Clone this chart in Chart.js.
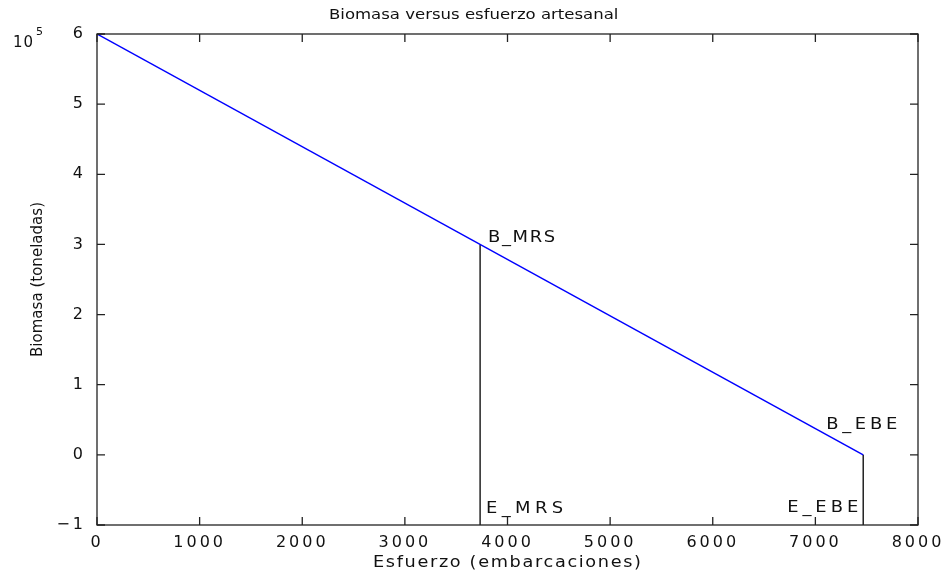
<!DOCTYPE html>
<html>
<head>
<meta charset="utf-8">
<script src="https://cdn.jsdelivr.net/npm/chart.js@4.4.1/dist/chart.umd.min.js"></script>
<style>
  html, body { margin: 0; padding: 0; background: #fff; }
  #wrap { width: 947px; height: 573px; position: relative; }
</style>
</head>
<body>
<div id="wrap"><canvas id="biomasaChart"></canvas></div>
<script>
// Biomass vs artisanal effort: straight decline from 6e5 t at zero effort
var esfuerzo = [0, 7466];
var biomasa = [600000, 0];

// Reference points (MRS and EBE) and the bottom of the axis they drop to
var puntosE = [3733, 7466];
var puntosB = [300000, 0];
var yMin = -100000;

// Axis ranges and tick steps
var xTicks = [0, 1000, 2000, 3000, 4000, 5000, 6000, 7000, 8000];
var yTicks = [-100000, 0, 100000, 200000, 300000, 400000, 500000, 600000];

var titulo = 'Biomasa versus esfuerzo artesanal';
var tituloX = 'Esfuerzo (embarcaciones)';
var tituloY = 'Biomasa (toneladas)';
var etiquetasB = ['B_MRS', 'B_EBE'];
var etiquetasE = ['E_MRS', 'E_EBE'];

var FONT = '"DejaVu Sans", Arial, sans-serif';

// draws text with glyphs stretched by sx, spread out to a given visible width
function drawText(ctx, txt, x, y, align, baseline, width, size, sx) {
    ctx.save();
    ctx.font = size + 'px ' + FONT;
    ctx.letterSpacing = '0px';
    var w0 = ctx.measureText(txt).width;
    var sp = Math.max(0, (width - w0 * sx) / (txt.length - 1) / sx);
    ctx.letterSpacing = sp + 'px';
    var full = width;
    var left = align === 'left' ? x : align === 'right' ? x - full : x - full / 2;
    ctx.translate(left, y);
    ctx.scale(sx, 1);
    ctx.textAlign = 'left';
    ctx.textBaseline = baseline;
    ctx.fillText(txt, 0, 0);
    ctx.restore();
}

var matlabFrame = {
    id: 'matlabFrame',
    beforeDraw: function(chart) {
        // wide spacing for the tick labels
        chart.ctx.letterSpacing = '3px';
    },
    afterDatasetsDraw: function(chart) {
        var ctx = chart.ctx;
        var a = chart.chartArea;
        var xs = chart.scales.x, ys = chart.scales.y;
        ctx.save();
        ctx.strokeStyle = '#222';
        ctx.lineWidth = 1.3;
        ctx.strokeRect(a.left, a.top, a.right - a.left, a.bottom - a.top);
        // inward ticks on all four sides
        var tl = 8;
        ctx.beginPath();
        xTicks.forEach(function(v) {
            var px = xs.getPixelForValue(v);
            ctx.moveTo(px, a.bottom); ctx.lineTo(px, a.bottom - tl);
            ctx.moveTo(px, a.top); ctx.lineTo(px, a.top + tl);
        });
        yTicks.forEach(function(v) {
            var py = ys.getPixelForValue(v);
            ctx.moveTo(a.left, py); ctx.lineTo(a.left + tl, py);
            ctx.moveTo(a.right, py); ctx.lineTo(a.right - tl, py);
        });
        ctx.stroke();

        ctx.fillStyle = '#111';
        // point labels
        var x1 = xs.getPixelForValue(puntosE[0]);
        var x2 = xs.getPixelForValue(puntosE[1]);
        var yb = ys.getPixelForValue(yMin);
        drawText(ctx, etiquetasB[0], x1 + 8, ys.getPixelForValue(puntosB[0]) - 7, 'left', 'middle', 67, 16, 1.12);
        drawText(ctx, etiquetasB[1], x2 + 34, ys.getPixelForValue(puntosB[1]) - 30, 'right', 'middle', 71, 16, 1.12);
        drawText(ctx, etiquetasE[0], x1 + 6, yb - 16, 'left', 'middle', 77, 16, 1.12);
        drawText(ctx, etiquetasE[1], x2 - 5, yb - 17, 'right', 'middle', 71, 16, 1.12);

        // titles
        drawText(ctx, titulo, 472, 19, 'center', 'alphabetic', 286, 14, 1.18);
        drawText(ctx, tituloX, 507, 567, 'center', 'alphabetic', 268, 15, 1.18);
        ctx.save();
        ctx.translate(42, (a.top + a.bottom) / 2);
        ctx.rotate(-Math.PI / 2);
        drawText(ctx, tituloY, 0, 0, 'center', 'alphabetic', 155, 15, 1.0);
        ctx.restore();

        // exponent marker
        drawText(ctx, '10', 13, 47, 'left', 'alphabetic', 20, 15, 1.0);
        drawText(ctx, '5', 36, 35, 'left', 'alphabetic', 0, 11, 1.0);
        ctx.restore();
    }
};

var config = {
    type: 'scatter',
    data: {
        datasets: [
            {
                data: esfuerzo.map(function(e, i) { return { x: e, y: biomasa[i] }; }),
                showLine: true,
                borderColor: '#0000ff',
                borderWidth: 1.5,
                pointRadius: 0
            },
            {
                data: [{ x: puntosE[0], y: yMin }, { x: puntosE[0], y: puntosB[0] }],
                showLine: true,
                borderColor: '#000',
                borderWidth: 1.3,
                pointRadius: 0
            },
            {
                data: [{ x: puntosE[1], y: yMin }, { x: puntosE[1], y: puntosB[1] }],
                showLine: true,
                borderColor: '#000',
                borderWidth: 1.3,
                pointRadius: 0
            }
        ]
    },
    options: {
        responsive: true,
        maintainAspectRatio: false,
        animation: false,
        layout: { padding: { top: 34, right: 29, left: 0, bottom: 0 } },
        plugins: {
            legend: { display: false },
            tooltip: { enabled: false },
            title: { display: false }
        },
        scales: {
            x: {
                type: 'linear',
                min: 0,
                max: 8000,
                grid: { display: false, drawTicks: false },
                border: { display: false },
                afterBuildTicks: function(s) { s.ticks = xTicks.map(function(v) { return { value: v }; }); },
                afterFit: function(s) { s.height = 48; },
                ticks: {
                    color: '#111',
                    padding: 8,
                    maxRotation: 0,
                    autoSkip: false,
                    font: { family: FONT, size: 16 },
                    callback: function(v) { return String(v); }
                }
            },
            y: {
                type: 'linear',
                min: yMin,
                max: 600000,
                grid: { display: false, drawTicks: false },
                border: { display: false },
                afterBuildTicks: function(s) { s.ticks = yTicks.map(function(v) { return { value: v }; }); },
                afterFit: function(s) { s.width = 97; },
                ticks: {
                    color: '#111',
                    padding: 11,
                    autoSkip: false,
                    font: { family: FONT, size: 16 },
                    callback: function(v) {
                        var n = Math.round(v / 100000);
                        return n < 0 ? '\u2212' + (-n) : String(n);
                    }
                }
            }
        }
    },
    plugins: [matlabFrame]
};

new Chart(document.getElementById('biomasaChart'), config);
</script>
</body>
</html>
